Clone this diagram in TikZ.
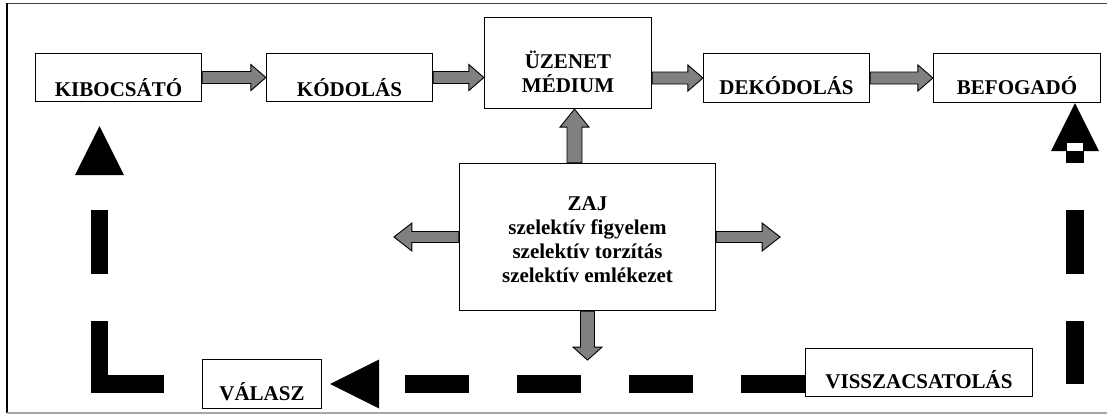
\documentclass[tikz,border=0pt]{standalone}
\usepackage{fontspec}
\setmainfont{Liberation Serif}
\usetikzlibrary{calc}

% grey block arrow: from, to, shaft half-width, head half-width, head length
\newcommand\grarrow[5]{%
  \coordinate (ahb) at ($(#2)!#5!(#1)$);
  \filldraw[grarr]
    ($(#1)!#3!90:(#2)$) -- ($(ahb)!#3!-90:(#1)$) -- ($(ahb)!#4!-90:(#1)$) --
    (#2) -- ($(ahb)!#4!90:(#1)$) -- ($(ahb)!#3!90:(#1)$) --
    ($(#1)!#3!-90:(#2)$) -- cycle;
}

\begin{document}
\begin{tikzpicture}[x=1pt,y=-1pt,
  box/.style={draw, line width=1.2pt, fill=white, inner sep=0pt,
    font=\bfseries\fontsize{21}{24}\selectfont, text depth=0pt},
  grarr/.style={fill=gray, draw=black, line width=0.9pt, line join=miter},
  fb/.style={line width=17.5pt, line cap=butt, line join=miter},
]
\useasboundingbox (0,0) rectangle (1107,416);

% outer frame
\draw[line width=1.5pt, black!75] (7,3.5) -- (1107,3.5);
\draw[line width=2pt] (7,3) -- (7,413);
\draw[line width=1.5pt, black!35] (7,413) -- (1107,413);

% main chain
\node[box, minimum width=166pt, minimum height=48pt, text height=37pt] (kib) at (118.5,77.5) {KIBOCSÁTÓ};
\node[box, minimum width=166pt, minimum height=48pt, text height=37pt] (kod) at (349.5,77.5) {KÓDOLÁS};
\node[box, minimum width=167pt, minimum height=91pt, text height=58pt, align=center] (uz) at (568,63) {ÜZENET\\MÉDIUM};
\node[box, minimum width=166pt, minimum height=49pt, text height=32pt] (dek) at (786.5,78) {DEKÓDOLÁS};
\node[box, minimum width=167pt, minimum height=49pt, text height=32pt] (bef) at (1017,78) {BEFOGADÓ};

% noise box
\node[box, minimum width=256pt, minimum height=147pt, text height=90pt, align=center] (zaj) at (587.5,237)
  {ZAJ\\szelektív figyelem\\szelektív torzítás\\szelektív emlékezet};

% feedback boxes
\node[box, minimum width=119pt, minimum height=49pt, text height=32pt] (val) at (262,384) {VÁLASZ};
\node[box, minimum width=227pt, minimum height=48pt, text height=31pt] (visz) at (919,372.5) {VISSZACSATOLÁS};

% grey arrows along the chain
\coordinate (a2) at (kod.east -| uz.west);
\coordinate (a3) at (dek.west -| uz.east);
\grarrow{kib.east}{kod.west}{6pt}{13pt}{15pt}
\grarrow{kod.east}{a2}{6pt}{13pt}{15pt}
\grarrow{a3}{dek.west}{6pt}{13pt}{15pt}
\grarrow{dek.east}{bef.west}{6pt}{13pt}{15pt}

% grey arrows out of the noise box
\coordinate (z1) at ($(zaj.north)+(-13,0)$);
\coordinate (z1t) at (z1 |- uz.south);
\coordinate (zL) at ($(zaj.west)+(-65,0)$);
\coordinate (zR) at ($(zaj.east)+(64,0)$);
\coordinate (zD) at ($(zaj.south)+(0,49)$);
\grarrow{z1}{z1t}{7.5pt}{14.5pt}{18pt}
\grarrow{zaj.west}{zL}{5.5pt}{14pt}{18pt}
\grarrow{zaj.east}{zR}{5.5pt}{14pt}{18pt}
\grarrow{zaj.south}{zD}{7pt}{14.5pt}{13pt}

% feedback loop: right side up to the receiver
\coordinate (fbR0) at (1075,384);
\coordinate (tipR) at (bef.south -| fbR0);
\draw[fb, dash pattern=on 63pt off 47pt on 64pt off 47pt on 13pt off 100pt]
  (fbR0) -- ($(tipR)+(0,48)$);
\fill (tipR) -- ++(-24,48) -- ++(48,0) -- cycle;
\fill[white] ($(tipR)+(-8,40)$) rectangle ($(tipR)+(8,47.5)$);

% feedback loop: bottom, towards the answer
\coordinate (tipB) at ($(val.east)+(8,0)$);
\draw[fb, dash pattern=on 64pt off 48pt] (visz.west |- tipB) -- ($(tipB)+(49,0)$);
\fill (tipB) -- ++(49,-24.5) -- ++(0,49) -- cycle;

% feedback loop: left side up to the sender
\coordinate (cornerL) at (99.5,384);
\coordinate (tipL) at ($(cornerL |- kib.south)+(0,24)$);
\draw[fb, dash pattern=on 0pt off 38pt on 127.5pt off 47pt on 64pt off 60pt]
  (val.west) -- (cornerL) -- ($(tipL)+(0,49)$);
\fill (tipL) -- ++(-24.5,49) -- ++(49,0) -- cycle;
\end{tikzpicture}
\end{document}
